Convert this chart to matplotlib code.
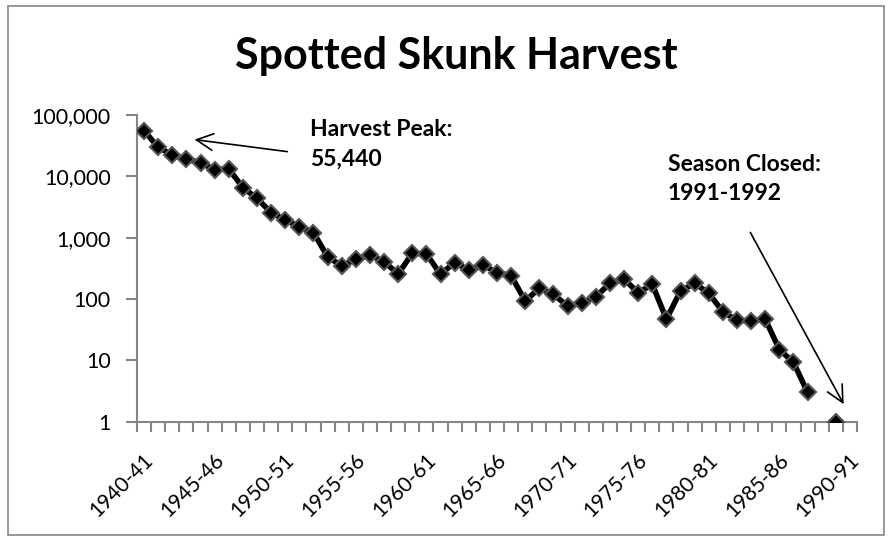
import numpy as np
import matplotlib
matplotlib.use("Agg")
import matplotlib.pyplot as plt
import matplotlib.transforms as mtransforms
from matplotlib.ticker import FuncFormatter, FixedLocator
from matplotlib.patches import Rectangle

plt.rcParams['font.family'] = ['Lato', 'DejaVu Sans']

# Seasons 1940-41 .. 1990-91
seasons = [f"{y}-{str(y + 1)[-2:]}" for y in range(1940, 1991)]

# Harvest per season (None = no harvest shown)
harvest = [55440, 29800, 22300, 19000, 16700, 12800, 13300, 6540, 4390, 2560,
           1950, 1510, 1210, 490, 346, 444, 522, 406, 256, 557,
           543, 253, 392, 297, 359, 269, 240, 93, 150, 119,
           77, 87, 109, 180, 212, 126, 174, 47, 135, 180,
           124, 62, 45, 44, 47, 15, 9.3, 3, None, 1,
           None]

x = np.arange(len(seasons))
y = np.array([np.nan if v is None else v for v in harvest], dtype=float)

# connected series runs up to the last contiguous value
last = 47
grey = '#868686'

fig = plt.figure(figsize=(8.92, 5.41), dpi=100)
ax = fig.add_axes([137 / 892, 1 - 421.7 / 541, 720 / 892, (421.7 - 115) / 541])

ax.plot(x[:last + 1], y[:last + 1], color='black', lw=4, zorder=2)
ax.plot(x, y, ls='none', marker='D', ms=8, mfc='black', mec='#555555', mew=1.5, zorder=3)

ax.set_yscale('log')
ax.set_ylim(1, 100000)
ax.set_xlim(-0.5, len(seasons) - 0.5)

ax.yaxis.set_major_locator(FixedLocator([1, 10, 100, 1000, 10000, 100000]))
ax.yaxis.set_minor_locator(FixedLocator([]))
ax.yaxis.set_major_formatter(FuncFormatter(lambda v, p: f"{int(v):,}"))

ax.set_xticks(x[::5])
ax.set_xticklabels(seasons[::5], rotation=45, ha='right', va='center', rotation_mode='anchor')
ax.set_xticks(np.arange(-0.5, len(seasons)), minor=True)
ax.tick_params(axis='x', which='major', length=0, pad=21, labelsize=15)
ax.tick_params(axis='x', which='minor', length=7, color=grey, width=1.5)
ax.tick_params(axis='y', which='major', length=8, color=grey, width=1.5, labelsize=15.5, pad=11)

# nudge the slanted season labels right and down
shift = mtransforms.ScaledTranslation(6 / 100, -6 / 100, fig.dpi_scale_trans)
for lab in ax.get_xticklabels():
    lab.set_transform(lab.get_transform() + shift)

for side in ['top', 'right']:
    ax.spines[side].set_visible(False)
for side in ['left', 'bottom']:
    ax.spines[side].set_color(grey)
    ax.spines[side].set_linewidth(1.5)

fig.text(456 / 892, 1 - 56 / 541, 'Spotted Skunk Harvest', ha='center', va='center',
         fontsize=31, fontweight='bold')

# annotations with open arrowheads
ax.annotate('', xy=(3.38, 10 ** 4.605), xytext=(10.34, 10 ** 4.397),
            arrowprops=dict(arrowstyle='->', color='black', lw=1.2, mutation_scale=30))
ax.text(11.76, 10 ** 4.52, 'Harvest Peak:\n55,440', fontsize=16.5, fontweight='bold',
        va='center', ha='left', linespacing=1.5)

ax.annotate('', xy=(49.65, 10 ** 0.245), xytext=(42.85, 10 ** 3.126),
            arrowprops=dict(arrowstyle='->', color='black', lw=1.2, mutation_scale=30))
ax.text(37.1, 10 ** 3.957, 'Season Closed:\n1991-1992', fontsize=16.5, fontweight='bold',
        va='center', ha='left', linespacing=1.5)

# outer chart border
fig.patches.append(Rectangle((8 / 892, 6 / 541), 876 / 892, 529 / 541, transform=fig.transFigure,
                             fill=False, edgecolor=grey, lw=1.2))

fig.savefig('out.png', dpi=100)
